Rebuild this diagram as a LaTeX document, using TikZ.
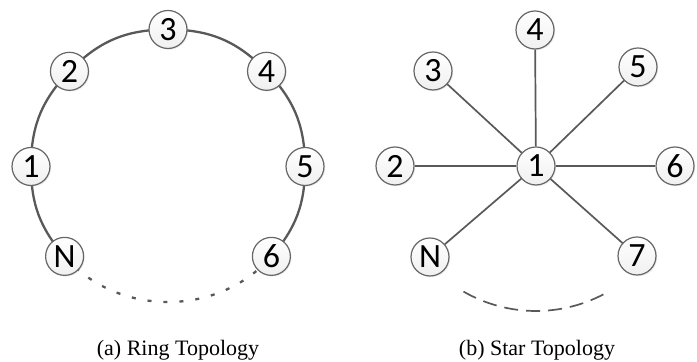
\documentclass[tikz,border=0pt]{standalone}
\usepackage{fontspec}
\setmainfont{Liberation Serif}
\newfontfamily\peerfont{Carlito}
\usetikzlibrary{shadows,backgrounds}

\tikzset{
  peer/.style={circle, draw=black!60, line width=0.6pt, minimum size=19pt, inner sep=0pt,
    top color=white, bottom color=black!6,
    drop shadow={opacity=0.15, shadow xshift=0.6pt, shadow yshift=-0.6pt},
    font=\peerfont\fontsize{17}{17}\selectfont},
  ringlink/.style={black!65, line width=1.15pt},
  ringgap/.style={ringlink, dash pattern=on 2pt off 6pt},
  starlink/.style={black!65, line width=0.85pt},
  stargap/.style={starlink, dash pattern=on 7pt off 4pt},
  caption/.style={font=\fontsize{11}{13}\selectfont}
}

\begin{document}
\begin{tikzpicture}[x=0.5pt,y=0.5pt]
\useasboundingbox (0,0) rectangle (697,362);

% ring
\coordinate (rc) at (168,195.5);
\foreach \a/\t/\n in {180/1/r1,136/2/r2,90/3/r3,44/4/r4,0/5/r5,-41/6/r6,221/N/rN}
  \node[peer] (\n) at ([shift={(rc)}]\a:137) {\t};
\begin{pgfonlayer}{background}
  \foreach \u/\v/\b in {rN/r1/20.5,r1/r2/22,r2/r3/23,r3/r4/23,r4/r5/22,r5/r6/20.5}
    \draw[ringlink] (\u.center) to[bend left=\b] (\v.center);
  \draw[ringgap] (rN.center) to[bend right=49] (r6.center);
\end{pgfonlayer}
\node[caption] (capa) at (178,12) {(a) Ring Topology};

% star
\node[peer] (s1) at (536,196) {1};
\foreach \p/\t/\n in {{(395,196)}/2/s2,{(433,291)}/3/s3,{(535,332)}/4/s4,{(638,295)}/5/s5,
  {(675,196)}/6/s6,{(637,106)}/7/s7,{(430,105)}/N/sN}{
  \node[peer] (\n) at \p {\t};
  \draw[starlink] (s1) -- (\n);
}
\draw[stargap] ([shift={(240:145)}]s1.center) arc[start angle=240, end angle=300, radius=145];
\node[caption] (capb) at (537,12) {(b) Star Topology};
\end{tikzpicture}
\end{document}
